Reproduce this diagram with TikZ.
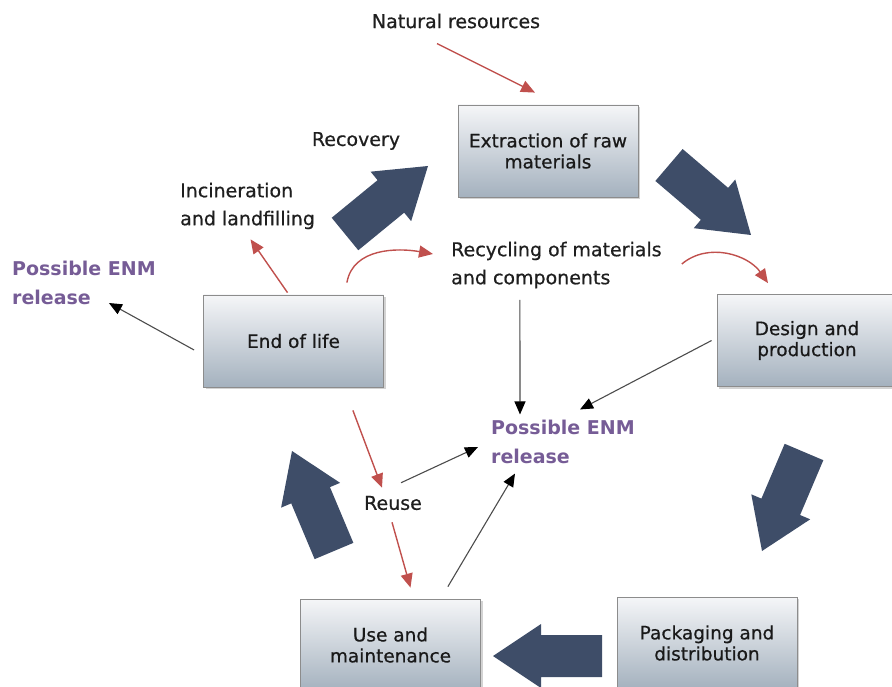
\documentclass[tikz,border=0pt]{standalone}
\usepackage{fontspec}
\setmainfont{DejaVu Sans}
\newfontfamily\heavyfont{DejaVu Sans}[FakeBold=0.6]
\usetikzlibrary{arrows.meta,shadows,calc}
\definecolor{slate}{RGB}{62,77,104}
\definecolor{rustred}{RGB}{192,80,77}
\definecolor{enmpurple}{RGB}{118,92,150}
\definecolor{boxtop}{RGB}{245,246,248}
\definecolor{boxbottom}{RGB}{164,177,190}
\definecolor{boxline}{RGB}{140,140,140}
% block arrow from tail #1 to tip #2
\newcommand{\cyclearrow}[2]{%
	\coordinate (hb) at ($(#2)!48pt!(#1)$);
	\fill[slate] ($(#1)!21pt!90:(#2)$) -- ($(hb)!21pt!-90:(#1)$) -- ($(hb)!32pt!-90:(#1)$) -- (#2)
		-- ($(hb)!32pt!90:(#1)$) -- ($(hb)!21pt!90:(#1)$) -- ($(#1)!21pt!-90:(#2)$) -- cycle;}

\begin{document}
\begin{tikzpicture}[x=1pt, y=-1pt,
		stage/.style={rectangle, draw=boxline, line width=0.8pt, top color=boxtop, bottom color=boxbottom,
			minimum width=180pt, minimum height=92pt, align=center, text=black!90,
			font=\heavyfont\fontsize{18.5}{21}\selectfont,
			drop shadow={shadow xshift=2pt, shadow yshift=-2pt, opacity=0.35, fill=gray}},
		lbl/.style={align=left, inner sep=0pt, text=black!88, font=\heavyfont\fontsize{19}{28}\selectfont},
		enm/.style={lbl, text=enmpurple, font=\fontsize{19}{29}\selectfont\bfseries},
		redarr/.style={draw=rustred, line width=1.4pt, -{Triangle[length=14pt,width=12pt]}},
		blkarr/.style={draw=black!70, line width=1.1pt, -{Triangle[length=13pt,width=11pt,color=black]}}]
		\clip (0,0) rectangle (892,687);

		% life cycle stages
		\node[stage] (ext)  at (548,151) {Extraction of raw\\materials};
		\node[stage] (des)  at (807,340.5) {Design and\\production};
		\node[stage] (pack) at (707,643) {Packaging and\\distribution};
		\node[stage] (use)  at (390.5,645) {Use and\\maintenance};
		\node[stage] (eol)  at (293.5,341) {End of life};

		% labels
		\node[lbl] (nat) at (456,21) {Natural resources};
		\node[lbl] (recov) at (356,141) {Recovery};
		\node[lbl, anchor=west] (incin) at (180,206) {Incineration\\and landfilling};
		\node[lbl, anchor=west] (recyc) at (451,265) {Recycling of materials\\and components};
		\node[lbl] (reuse) at (393,503) {Reuse};
		\node[enm, anchor=west] (enmL) at (12,283) {Possible ENM\\release};
		\node[enm, anchor=west] (enmC) at (491,442) {Possible ENM\\release};

		% main cycle
		\coordinate (recT) at (345,234);   \coordinate (recH) at (428,166);
		\coordinate (desT) at (669,165);   \coordinate (desH) at (751,235);
		\coordinate (packT) at (804,452);  \coordinate (packH) at (762,551);
		\coordinate (useT) at (602,656);   \coordinate (useH) at (493,656);
		\coordinate (eolT) at (334,551);   \coordinate (eolH) at (292,451);
		\cyclearrow{recT}{recH}
		\cyclearrow{desT}{desH}
		\cyclearrow{packT}{packH}
		\cyclearrow{useT}{useH}
		\cyclearrow{eolT}{eolH}

		% material flows
		\draw[redarr] ([shift={(-19,15)}]nat.south) -- ([shift={(-13,-12)}]ext.north);
		\draw[redarr] ([shift={(-6,-2)}]eol.north) -- ([shift={(3,10)}]incin.south);
		\draw[redarr] ([shift={(-37,-12)}]eol.north east) to[out=80, in=170] ([shift={(-18,-11)}]recyc.west);
		\draw[redarr] ([shift={(20,-1)}]recyc.east) to[out=40, in=125] ([shift={(-39,-11)}]des.north);
		\draw[redarr] ([shift={(-31,23)}]eol.south east) -- ([shift={(-11,-8)}]reuse.north);
		\draw[redarr] ([shift={(-1,12)}]reuse.south) -- ([shift={(20,-11)}]use.north);

		% releases
		\draw[blkarr] ([shift={(-9,9)}]eol.west) -- ([shift={(-47,20)}]enmL.east);
		\draw[blkarr] ([shift={(-36.5,11.5)}]recyc.south) -- ([shift={(29,-5.5)}]enmC.north west);
		\draw[blkarr] ([shift={(-5,0)}]des.west) -- ([shift={(89,-10.5)}]enmC.north west);
		\draw[blkarr] ([shift={(-21,-13)}]reuse.north east) -- ([shift={(-13,5)}]enmC.west);
		\draw[blkarr] ([shift={(-33,-12)}]use.north east) -- ([shift={(24,9.5)}]enmC.south west);
\end{tikzpicture}
\end{document}
